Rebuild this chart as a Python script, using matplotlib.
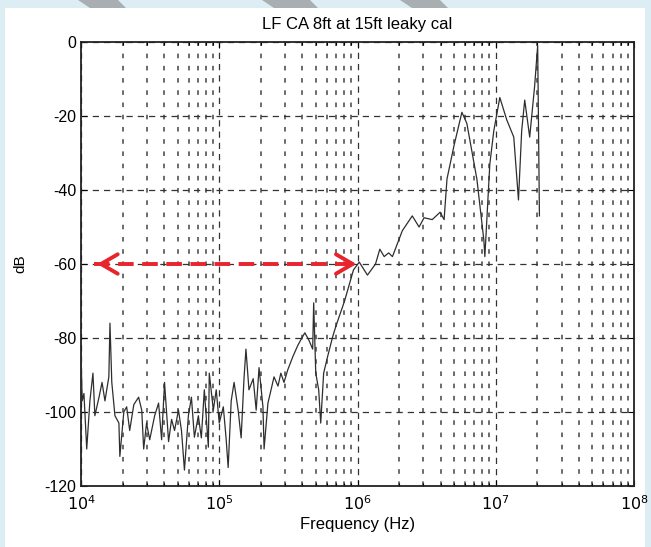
import numpy as np
import matplotlib.pyplot as plt
from matplotlib.patches import Polygon, Rectangle
from matplotlib.ticker import LogLocator, FixedLocator, NullFormatter

plt.rcParams['font.family'] = ['Liberation Sans', 'DejaVu Sans']
plt.rcParams['axes.unicode_minus'] = False

freq_hz = [
    1.00e4, 1.02e4, 1.05e4, 1.10e4, 1.16e4, 1.22e4, 1.26e4, 1.35e4, 1.42e4, 1.49e4,
    1.59e4, 1.62e4, 1.67e4, 1.76e4, 1.88e4, 1.91e4, 2.04e4, 2.14e4, 2.25e4, 2.41e4,
    2.61e4, 2.75e4, 2.84e4, 2.98e4, 3.14e4, 3.41e4, 3.64e4, 3.83e4, 4.02e4, 4.30e4,
    4.52e4, 4.75e4, 5.07e4, 5.33e4, 5.60e4, 5.98e4, 6.29e4, 6.61e4, 7.06e4, 7.42e4,
    7.80e4, 8.34e4, 8.47e4, 9.06e4, 9.51e4, 1.00e5, 1.07e5, 1.12e5, 1.16e5, 1.22e5,
    1.28e5, 1.37e5, 1.44e5, 1.51e5, 1.56e5, 1.64e5, 1.76e5, 1.85e5, 1.94e5, 2.07e5,
    2.11e5, 2.25e5, 2.37e5, 2.49e5, 2.66e5, 2.79e5, 2.94e5, 3.13e5, 3.41e5, 3.70e5,
    3.89e5, 4.16e5, 4.44e5, 4.74e5, 4.82e5, 4.99e5, 5.24e5, 5.42e5, 5.69e5, 6.08e5,
    6.61e5, 6.95e5, 8.06e5, 9.35e5, 1.03e6, 1.18e6, 1.35e6, 1.45e6, 1.56e6, 1.68e6,
    1.79e6, 2.11e6, 2.49e6, 2.79e6, 3.03e6, 3.47e6, 3.96e6, 4.23e6, 4.44e6, 4.99e6,
    5.69e6, 6.18e6, 7.30e6, 8.20e6, 8.34e6, 9.06e6, 9.68e6, 1.07e7, 1.20e7, 1.35e7,
    1.46e7, 1.54e7, 1.62e7, 1.76e7, 1.91e7, 2.01e7, 2.07e7,
]
level_db = [
    -84, -97, -95, -110, -97, -89.5, -101, -96, -92, -97,
    -90.5, -76, -92, -101, -103, -112, -100, -98.6, -105, -98,
    -96, -99.5, -110, -103, -107.5, -101, -97.6, -107.5, -92, -108,
    -102, -105, -99.5, -105, -115.7, -101, -96, -106.8, -101, -107,
    -94, -109.5, -89.5, -99.5, -94, -103, -98.6, -107, -115, -97,
    -92, -99.5, -107, -91, -83, -94, -91, -99.5, -88, -98.6,
    -110, -97.6, -94, -90.5, -93, -89.5, -92, -88.6, -85, -82,
    -80.5, -78.6, -80.5, -83, -70.5, -89.5, -94, -103, -89.5, -85,
    -79.7, -77, -70, -61.6, -59.5, -63, -60, -56, -58, -57,
    -58, -51, -47, -50, -47.5, -48, -46, -48, -37, -28,
    -19, -22, -37, -53.5, -58, -33, -24, -15, -21, -25.7,
    -42.7, -24, -15.7, -25.7, -12, -1, -47,
]

x_range = [1e4, 1e8]
y_range = [-120, 0]
y_ticks = [0, -20, -40, -60, -80, -100, -120]
x_ticks = [1e4, 1e5, 1e6, 1e7, 1e8]
x_ticklabels = ['$10^{4}$', '$10^{5}$', '$10^{6}$', '$10^{7}$', '$10^{8}$']

arrow_left_hz = 1.25e4
arrow_right_hz = 1.03e6
arrow_db = -60

fig = plt.figure(figsize=(6.51, 5.47), dpi=100)
fig.patch.set_facecolor('#dcedf3')

# slide background: white panel and the grey diagonal bands at the top
fig.add_artist(Rectangle((5 / 651, 0), 640 / 651, 1 - 8 / 547,
                         transform=fig.transFigure, facecolor='white',
                         edgecolor='none', zorder=0))
for x0, x1 in [(78, 118), (262, 310), (400, 440)]:
    band = Polygon([(x0 / 651, 1), (x1 / 651, 1),
                    ((x1 + 8) / 651, 1 - 8 / 547), ((x0 + 12) / 651, 1 - 8 / 547)],
                   closed=True, transform=fig.transFigure,
                   facecolor='#a9aeb2', edgecolor='none', zorder=1)
    fig.add_artist(band)

ax = fig.add_axes([81 / 651, 1 - 486 / 547, 553 / 651, 444 / 547])
ax.set_facecolor('white')

ax.semilogx(freq_hz, level_db, color='#2e2e2e', lw=0.9, zorder=3)

ax.set_xlim(x_range)
ax.set_ylim(y_range)
ax.xaxis.set_major_locator(FixedLocator(x_ticks))
ax.set_xticklabels(x_ticklabels)
ax.xaxis.set_minor_locator(LogLocator(base=10, subs=np.arange(2, 10), numticks=20))
ax.xaxis.set_minor_formatter(NullFormatter())
ax.set_yticks(y_ticks)

ax.grid(which='major', color='#333333', lw=0.9, linestyle=(0, (5, 4)))
ax.grid(which='minor', axis='x', color='#444444', lw=1.1, linestyle=(0, (3, 5)))
ax.tick_params(which='both', direction='in', top=True, right=True,
               labelsize=11.5, length=4, width=0.8)
ax.tick_params(which='minor', length=2)
ax.tick_params(axis='x', pad=6)
for s in ax.spines.values():
    s.set_linewidth(1.3)
    s.set_color('#222222')

ax.set_title('LF CA 8ft at 15ft leaky cal', fontsize=12, pad=9)
ax.set_xlabel('Frequency (Hz)', fontsize=12, labelpad=3)
ax.set_ylabel('dB', fontsize=11, labelpad=12)

# red dashed double arrow
red = '#e8242c'
ax.plot([arrow_left_hz, arrow_right_hz], [arrow_db, arrow_db], color=red,
        lw=2.8, linestyle=(0, (4, 2.2)), zorder=5)
ax.annotate('', xy=(arrow_left_hz, arrow_db), xytext=(arrow_left_hz * 1.3, arrow_db),
            arrowprops=dict(arrowstyle='->,head_length=1.2,head_width=0.7',
                            color=red, lw=2.8), zorder=6)
ax.annotate('', xy=(arrow_right_hz, arrow_db), xytext=(arrow_right_hz / 1.3, arrow_db),
            arrowprops=dict(arrowstyle='->,head_length=1.2,head_width=0.7',
                            color=red, lw=2.8), zorder=6)

fig.savefig('out.png', dpi=100, facecolor=fig.get_facecolor())
